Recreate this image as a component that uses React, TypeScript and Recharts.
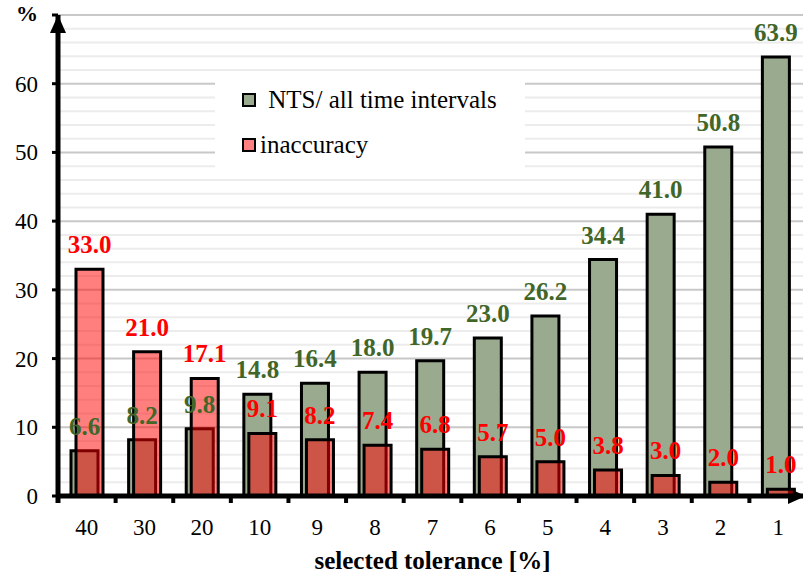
import React from 'react';
import {
  Bar,
  BarChart,
  CartesianGrid,
  Customized,
  LabelList,
  Legend,
  XAxis,
  YAxis,
} from 'recharts';

const tolerances = ['40', '30', '20', '10', '9', '8', '7', '6', '5', '4', '3', '2', '1'];
const ntsShare = [6.6, 8.2, 9.8, 14.8, 16.4, 18.0, 19.7, 23.0, 26.2, 34.4, 41.0, 50.8, 63.9];
const inaccuracy = [33.0, 21.0, 17.1, 9.1, 8.2, 7.4, 6.8, 5.7, 5.0, 3.8, 3.0, 2.0, 1.0];

const yTicks = [0, 10, 20, 30, 40, 50, 60, 70];
const minorLines = Array.from({ length: 36 }, (_, i) => i * 2).filter((v) => v % 10 !== 0);

const data = tolerances.map((tol, i) => ({
  tol,
  nts: ntsShare[i],
  inacc: inaccuracy[i],
}));

const CHART_W = 820;
const CHART_H = 576;
const MARGIN = { top: 15, right: 13, bottom: 0, left: 0 };
const Y_AXIS_W = 58;
const PLOT_LEFT = MARGIN.left + Y_AXIS_W;
const PLOT_RIGHT = CHART_W - MARGIN.right;
const PLOT_BOTTOM = CHART_H - MARGIN.bottom - 80;
const BAND = (PLOT_RIGHT - PLOT_LEFT) / tolerances.length;

const FONT = "'Liberation Serif', 'DejaVu Serif', serif";
const GREEN_FILL = '#9aaa8e';
const GREEN_TEXT = '#416628';
const RED = '#ff0000';

const swatch: Record<string, string> = {
  nts: GREEN_FILL,
  inacc: '#ff8080',
};

const fmt = (v: number) => v.toFixed(1);

const XTick = (props: any) => {
  const { x, y, payload } = props;
  const bx = x - BAND / 2;
  return (
    <g>
      <line x1={bx} x2={bx} y1={y} y2={y + 7} stroke="#000" strokeWidth={4} />
      <text x={x} y={y + 39} textAnchor="middle" style={{ fontFamily: FONT, fontSize: 23 }} fill="#000">
        {payload.value}
      </text>
    </g>
  );
};

const YTick = (props: any) => {
  const { x, y, payload } = props;
  const isTop = payload.value === 70;
  return (
    <text
      x={x}
      y={y}
      dy={isTop ? '0.25em' : '0.35em'}
      textAnchor="end"
      style={{ fontFamily: FONT, fontSize: isTop ? 22 : 23, fontWeight: isTop ? 'bold' : 'normal' }}
      fill="#000"
    >
      {isTop ? '%' : payload.value}
    </text>
  );
};

// arrowheads on the two axes
const AxisArrows = () => (
  <g>
    <line x1={PLOT_LEFT} x2={PLOT_LEFT} y1={PLOT_BOTTOM} y2={PLOT_BOTTOM + 7} stroke="#000" strokeWidth={5} />
    <polygon
      points={`${PLOT_LEFT},${MARGIN.top} ${PLOT_LEFT - 8},${MARGIN.top + 18} ${PLOT_LEFT + 8},${MARGIN.top + 18}`}
      fill="#000"
    />
    <polygon
      points={`788,${PLOT_BOTTOM - 8} 788,${PLOT_BOTTOM + 8} 806,${PLOT_BOTTOM}`}
      fill="#000"
    />
  </g>
);

const LegendBox = (props: any) => {
  const items = props.payload || [];
  return (
    <div style={{ position: 'relative', width: '100%', height: '100%', fontFamily: FONT }}>
      {items.map((item: any, i: number) => (
        <div
          key={item.dataKey}
          style={{
            position: 'absolute',
            left: 27,
            top: 14 + i * 45,
            display: 'flex',
            alignItems: 'center',
            fontSize: 25,
            lineHeight: '28px',
            color: '#000',
            whiteSpace: 'pre',
          }}
        >
          <span
            style={{
              display: 'inline-block',
              width: 10,
              height: 10,
              border: '2.5px solid #000',
              background: swatch[item.dataKey],
              marginRight: i === 0 ? 6 : 4,
            }}
          />
          {item.value}
        </div>
      ))}
    </div>
  );
};

const labelStyle = { fontFamily: FONT, fontSize: 25, fontWeight: 'bold' as const };

export default function App() {
  return (
    <div
      style={{
        position: 'absolute',
        left: 0,
        top: 0,
        width: 803,
        height: 576,
        overflow: 'hidden',
        background: '#fff',
        fontFamily: FONT,
      }}
    >
      <BarChart
        width={CHART_W}
        height={CHART_H}
        data={data}
        margin={MARGIN}
        barSize={27}
        barGap={-22}
        style={{ fontFamily: FONT }}
      >
        <CartesianGrid
          vertical={false}
          horizontalValues={minorLines}
          stroke="#ececec"
          strokeWidth={2}
        />
        <CartesianGrid
          vertical={false}
          horizontalValues={yTicks}
          stroke="#c8c8c8"
          strokeWidth={2}
        />
        <XAxis
          dataKey="tol"
          height={80}
          tickSize={0}
          tickMargin={0}
          tickLine={false}
          axisLine={{ stroke: '#000', strokeWidth: 5 }}
          tick={<XTick />}
          interval={0}
          label={{
            value: 'selected tolerance [%]',
            position: 'insideBottom',
            offset: 7,
            fill: '#000',
            style: labelStyle,
          }}
        />
        <YAxis
          width={Y_AXIS_W}
          domain={[0, 70]}
          ticks={yTicks}
          interval={0}
          tickSize={6}
          tickMargin={14}
          tickLine={{ stroke: '#000', strokeWidth: 3 }}
          axisLine={{ stroke: '#000', strokeWidth: 5 }}
          tick={<YTick />}
        />
        <Legend
          layout="horizontal"
          verticalAlign="middle"
          align="center"
          wrapperStyle={{ left: 215, top: 72, width: 310, height: 100, backgroundColor: '#fff' }}
          content={<LegendBox />}
        />
        <Bar
          dataKey="nts"
          name=" NTS/ all time intervals"
          fill={GREEN_FILL}
          stroke="#000"
          strokeWidth={3}
          isAnimationActive={false}
        >
          <LabelList
            dataKey="nts"
            position="top"
            offset={16}
            formatter={fmt}
            fill={GREEN_TEXT}
            style={labelStyle}
          />
        </Bar>
        <Bar
          dataKey="inacc"
          name="inaccuracy"
          fill={RED}
          fillOpacity={0.5}
          stroke="#000"
          strokeWidth={3}
          isAnimationActive={false}
        >
          <LabelList
            dataKey="inacc"
            position="top"
            offset={16}
            formatter={fmt}
            fill={RED}
            style={labelStyle}
          />
        </Bar>
        <Customized component={AxisArrows} />
      </BarChart>
    </div>
  );
}
